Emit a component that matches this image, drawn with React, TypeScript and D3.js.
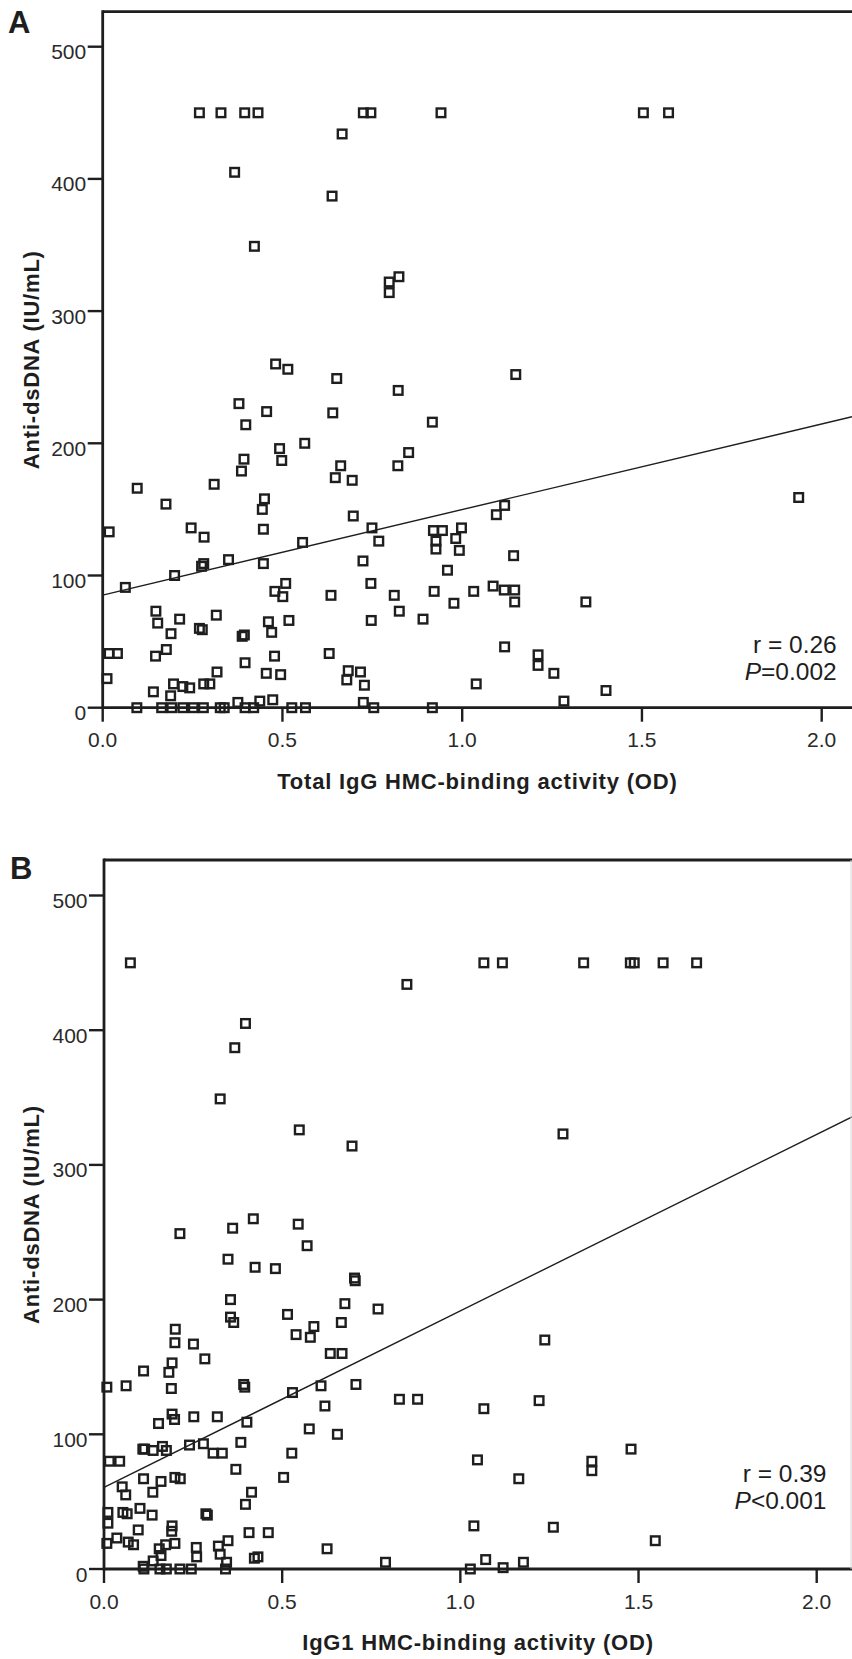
import React from "react";
import * as d3 from "d3";

// ---------- Data ----------
// Panel A: Total IgG HMC-binding activity (OD) vs Anti-dsDNA (IU/mL)
const panelAx: number[] = [
  0.269, 0.329, 0.395, 0.432, 0.725, 0.746, 0.941, 1.504, 1.574,
  0.666, 0.367, 0.638, 0.422, 0.824, 0.797, 0.797,
  0.481, 0.515, 0.651, 0.822, 1.149,
  0.379, 0.456, 0.640, 0.398, 0.917,
  0.562, 0.492, 0.498, 0.393, 0.386, 0.851, 0.821, 0.662, 0.647, 0.694,
  0.096, 0.310, 0.450, 0.444, 0.176, 0.697, 1.936, 1.118, 1.095,
  0.018, 0.246, 0.282, 0.447, 0.749, 0.768, 0.556, 0.920, 0.945, 0.998, 0.927, 0.982, 0.927, 0.992, 1.143,
  0.959, 0.724, 0.350, 0.281, 0.275, 0.447, 0.200,
  0.063, 0.479, 0.509, 0.501, 0.635, 0.746, 0.811, 0.922, 1.032, 1.086, 1.117, 1.146, 1.146, 1.344, 0.977,
  0.825, 0.891, 0.747, 0.148, 0.153, 0.190, 0.214, 0.316, 0.269, 0.277, 0.461, 0.470, 0.518, 0.388, 0.394,
  0.018, 0.041, 0.147, 0.177, 0.630, 0.478, 1.118, 1.211, 1.211, 1.255,
  0.012, 0.141, 0.189, 0.197, 0.223, 0.242, 0.281, 0.298, 0.318, 0.396, 0.455, 0.495, 0.683, 0.679, 0.717, 0.728, 1.039, 1.400,
  0.473, 0.437, 0.376, 0.725, 1.283,
  0.095, 0.164, 0.192, 0.223, 0.252, 0.280, 0.327, 0.338, 0.396, 0.420, 0.526, 0.564, 0.754, 0.917,
];
const panelAy: number[] = [
  450, 450, 450, 450, 450, 450, 450, 450, 450,
  434, 405, 387, 349, 326, 322, 314,
  260, 256, 249, 240, 252,
  230, 224, 223, 214, 216,
  200, 196, 187, 188, 179, 193, 183, 183, 174, 172,
  166, 169, 158, 150, 154, 145, 159, 153, 146,
  133, 136, 129, 135, 136, 126, 125, 134, 134, 136, 126, 128, 120, 119, 115,
  104, 111, 112, 109, 107, 109, 100,
  91, 88, 94, 84, 85, 94, 85, 88, 88, 92, 89, 89, 80, 80, 79,
  73, 67, 66, 73, 64, 56, 67, 70, 60, 59, 65, 57, 66, 54, 55,
  41, 41, 39, 44, 41, 39, 46, 40, 32, 26,
  22, 12, 9, 18, 16, 15, 18, 18, 27, 34, 26, 25, 28, 21, 27, 17, 18, 13,
  6, 5, 4, 4, 5,
  0, 0, 0, 0, 0, 0, 0, 0, 0, 0, 0, 0, 0, 0,
];

// Panel B: IgG1 HMC-binding activity (OD) vs Anti-dsDNA (IU/mL)
const panelBx: number[] = [
  0.074, 1.066, 1.118, 1.346, 1.477, 1.488, 1.569, 1.663,
  0.850, 0.397, 0.367, 0.326, 0.548, 0.696, 1.288,
  0.213, 0.361, 0.419, 0.545, 0.570, 0.348, 0.424, 0.481, 0.703, 0.705,
  0.355, 0.355, 0.364, 0.676, 0.769, 0.515, 0.666, 0.200, 0.589, 0.539, 0.579, 0.199, 0.251, 0.283, 0.191, 0.635, 0.668, 1.237,
  0.111, 0.182, 0.189, 0.008, 0.062, 0.392, 0.395, 0.609, 0.707, 0.529, 0.620, 0.829, 0.880, 1.066, 1.221,
  0.191, 0.198, 0.252, 0.318, 0.153, 0.401, 0.576, 0.655,
  0.384, 0.109, 0.114, 0.138, 0.164, 0.175, 0.240, 0.279, 0.306, 0.332, 0.527, 1.479,
  0.015, 0.044, 1.048, 1.369, 1.369, 0.370, 0.504, 0.111, 0.160, 0.199, 0.214, 1.164,
  0.051, 0.061, 0.137, 0.414, 0.397,
  0.011, 0.053, 0.065, 0.101, 0.135, 0.286, 0.290,
  0.011, 0.191, 0.190, 0.096, 1.038, 1.261,
  0.036, 0.068, 0.083, 0.008, 0.407, 0.461, 0.348, 0.321, 0.259, 0.199, 0.173, 0.155, 0.160, 0.626, 1.547,
  0.326, 0.260, 0.432, 0.422, 0.344, 0.790, 0.138, 0.110, 1.071, 1.177, 1.120,
  0.112, 0.157, 0.175, 0.213, 0.245, 0.341, 1.028,
];
const panelBy: number[] = [
  450, 450, 450, 450, 450, 450, 450, 450,
  434, 405, 387, 349, 326, 314, 323,
  249, 253, 260, 256, 240, 230, 224, 223, 216, 214,
  200, 187, 183, 197, 193, 189, 183, 178, 180, 174, 172, 168, 167, 156, 153, 160, 160, 170,
  147, 146, 134, 135, 136, 137, 135, 136, 137, 131, 121, 126, 126, 119, 125,
  115, 111, 113, 113, 108, 109, 104, 100,
  94, 89, 89, 88, 91, 88, 92, 93, 86, 86, 86, 89,
  80, 80, 81, 80, 73, 74, 68, 67, 65, 68, 67, 67,
  61, 55, 57, 57, 48,
  42, 42, 41, 45, 40, 41, 40,
  34, 32, 28, 29, 32, 31,
  23, 20, 18, 19, 27, 27, 21, 17, 16, 19, 18, 15, 10, 15, 21,
  11, 9, 9, 8, 5, 5, 6, 2, 7, 5, 1,
  0, 0, 0, 0, 0, 0, 0,
];

// Regression fits [intercept, slope]
const fitA: number[] = [85.2, 64.7];
const fitB: number[] = [60.6, 131];

const yTicks: number[] = [0, 100, 200, 300, 400, 500];
const xTicks: number[] = [0, 0.5, 1.0, 1.5, 2.0];

const statsA: string[] = ["r = 0.26", "=0.002"];
const statsB: string[] = ["r = 0.39", "<0.001"];

const FONT = "'Liberation Sans', Arial, Helvetica, sans-serif";
const INK = "#1e1e1e";

type PanelProps = {
  letter: string;
  xs: number[];
  ys: number[];
  fit: number[];
  stats: string[];
  xTitle: string;
  left: number;
  x2: number;
  top: number;
  y0: number;
  y500: number;
  statsRight: number;
  statsBase: number;
  letterX: number;
  letterY: number;
};

function Panel(p: PanelProps) {
  const x = d3.scaleLinear().domain([0, 2]).range([p.left, p.x2]);
  const y = d3.scaleLinear().domain([0, 500]).range([p.y0, p.y500]);
  const xMax = x.invert(852);
  const line = d3
    .line<number>()
    .x((d) => x(d))
    .y((d) => y(p.fit[0] + p.fit[1] * d));
  const sq = 8.6;
  return (
    <g>
      <text x={p.letterX} y={p.letterY} fontFamily={FONT} fontWeight="bold" fontSize={31} fill={INK}>
        {p.letter}
      </text>
      {/* frame */}
      <line x1={p.left} x2={860} y1={p.top} y2={p.top} stroke={INK} strokeWidth={2.8} />
      <line x1={p.left} x2={p.left} y1={p.top - 1.4} y2={p.y0 + 1.4} stroke={INK} strokeWidth={2.8} />
      <line x1={p.left} x2={860} y1={p.y0} y2={p.y0} stroke={INK} strokeWidth={2.8} />
      {/* y ticks */}
      {yTicks.map((t) => (
        <g key={"y" + t}>
          <line x1={p.left - 15} x2={p.left} y1={y(t)} y2={y(t)} stroke={INK} strokeWidth={2.4} />
          <text
            x={p.left - 16.5}
            y={y(t) + 5 + 7.5}
            textAnchor="end"
            fontFamily={FONT}
            fontSize={21}
            fill="#2a2a2a"
          >
            {t}
          </text>
        </g>
      ))}
      {/* x ticks */}
      {xTicks.map((t) => (
        <g key={"x" + t}>
          <line x1={x(t)} x2={x(t)} y1={p.y0} y2={p.y0 + 14} stroke={INK} strokeWidth={2.4} />
          <text
            x={x(t)}
            y={p.y0 + 39.5}
            textAnchor="middle"
            fontFamily={FONT}
            fontSize={21}
            fill="#2a2a2a"
          >
            {t.toFixed(1)}
          </text>
        </g>
      ))}
      {/* axis titles */}
      <text
        x={(p.left + 852) / 2}
        y={p.y0 + 81}
        textAnchor="middle"
        fontFamily={FONT}
        fontWeight="bold"
        fontSize={22}
        letterSpacing={0.8}
        fill={INK}
      >
        {p.xTitle}
      </text>
      <text
        transform={`translate(39,${(p.top + p.y0) / 2}) rotate(-90)`}
        textAnchor="middle"
        fontFamily={FONT}
        fontWeight="bold"
        fontSize={22}
        letterSpacing={0.8}
        fill={INK}
      >
        Anti-dsDNA (IU/mL)
      </text>
      {/* regression line */}
      <path d={line([0, xMax]) || ""} fill="none" stroke={INK} strokeWidth={1.4} />
      {/* points */}
      {p.xs.map((v, i) => (
        <rect
          key={i}
          x={x(v) - sq / 2}
          y={y(p.ys[i]) - sq / 2}
          width={sq}
          height={sq}
          fill="none"
          stroke={INK}
          strokeWidth={2.4}
        />
      ))}
      {/* stats */}
      <text x={p.statsRight} y={p.statsBase} textAnchor="end" fontFamily={FONT} fontSize={24.5} fill={INK}>
        {p.stats[0]}
      </text>
      <text x={p.statsRight} y={p.statsBase + 27} textAnchor="end" fontFamily={FONT} fontSize={24.5} fill={INK}>
        <tspan fontStyle="italic">P</tspan>
        {p.stats[1]}
      </text>
    </g>
  );
}

export default function App() {
  return (
    <svg
      width={852}
      height={1659}
      viewBox="0 0 852 1659"
      style={{ position: "absolute", left: 0, top: 0, background: "#fff" }}
    >
      <rect x={0} y={0} width={852} height={1659} fill="#fff" />
      <Panel
        letter="A"
        xs={panelAx}
        ys={panelAy}
        fit={fitA}
        stats={statsA}
        xTitle="Total IgG HMC-binding activity (OD)"
        left={102.7}
        x2={821.7}
        top={11.7}
        y0={707.7}
        y500={46.7}
        statsRight={836.7}
        statsBase={653.3}
        letterX={8}
        letterY={33}
      />
      <Panel
        letter="B"
        xs={panelBx}
        ys={panelBy}
        fit={fitB}
        stats={statsB}
        xTitle="IgG1 HMC-binding activity (OD)"
        left={104}
        x2={816.7}
        top={860}
        y0={1569}
        y500={895.5}
        statsRight={826.5}
        statsBase={1482.3}
        letterX={10}
        letterY={879}
      />
      <line x1={851} x2={851} y1={860} y2={1569} stroke="#d8d8d8" strokeWidth={1} />
    </svg>
  );
}
